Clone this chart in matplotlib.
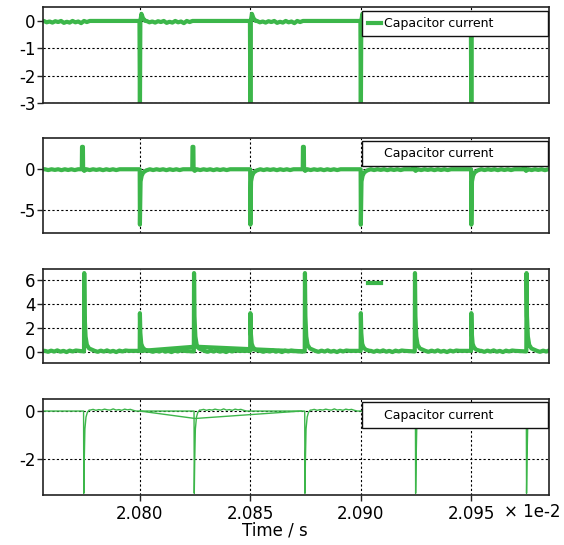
import numpy as np
import matplotlib
matplotlib.use("Agg")
import matplotlib.pyplot as plt
from matplotlib.lines import Line2D

plt.rcParams['font.family'] = ['DejaVu Sans']
plt.rcParams['axes.unicode_minus'] = False

GREEN = '#3cb64a'

# ---------------- data (time in units of 1e-2 s) ----------------
T_START, T_END = 2.0756, 2.09853
x_ticks = [2.080, 2.085, 2.090, 2.095]
x_tick_labels = ['2.080', '2.085', '2.090', '2.095']
legend_label = 'Capacitor current'

# Panel 1
p1_drop_t = [2.0800, 2.0850, 2.0900, 2.0950]
p1_drop_dt = [-0.00002, 0.0, 0.00002, 0.00007, 0.00014, 0.00024]
p1_drop_v = [0.0, -3.6, 0.0, 0.26, 0.10, 0.0]
p1_ripple_t0 = [2.07565, 2.0803, 2.0853, 2.0903, 2.0953]
p1_ripple_v = [0.0, -0.05, -0.02, -0.06, -0.01, -0.04, 0.0, -0.07, -0.03,
               -0.06, 0.0, -0.05, -0.02, -0.08, 0.0, -0.04, 0.0]
p1_ripple_step = 0.00013
p1_yticks = [0, -1, -2, -3]
p1_ylim = (-3.0, 0.51)

# Panel 2
p2_pulse_t = [2.07738, 2.08238, 2.08738, 2.09238, 2.09738]
p2_pulse_dt = [-0.00001, 0.0, 0.00004, 0.00005, 0.0001, 0.00018]
p2_pulse_v = [0.0, 2.75, 2.75, 0.0, -0.2, 0.0]
p2_drop_t = [2.0800, 2.0850, 2.0900, 2.0950]
p2_drop_dt = [-0.00001, 0.0, 0.00003, 0.00008, 0.00015, 0.00028, 0.00045]
p2_drop_v = [0.0, -6.8, -1.5, -0.8, -0.4, -0.15, 0.0]
p2_ripple_t0 = [2.0757, 2.07758, 2.08045, 2.08258, 2.08545, 2.08758,
                2.09045, 2.09258, 2.09545, 2.09758]
p2_ripple_v = [0.0, -0.1, 0.0, -0.08, 0.0, -0.11, 0.0, -0.09, 0.0, -0.1, 0.0]
p2_ripple_step = 0.00015
p2_yticks = [0, -5]
p2_ylim = (-7.86, 3.8)

# Panel 3
p3_tall_t = [2.07748, 2.08245, 2.08747, 2.09245, 2.09750]
p3_tall_dt = [-0.00001, 0.0, 0.00002, 0.00006, 0.00012, 0.00022, 0.0004]
p3_tall_v = [0.05, 6.6, 3.0, 1.3, 0.6, 0.3, 0.15]
p3_small_t = [2.0800, 2.0850, 2.0900, 2.0950]
p3_small_v = [0.1, 3.25, 1.6, 0.7, 0.4, 0.2, 0.1]
p3_ripple_t0 = [2.0757, 2.07795, 2.08045, 2.08292, 2.08545, 2.08794,
                2.09045, 2.09292, 2.09545, 2.09797]
p3_ripple_v = [0.1, 0.02, 0.12, 0.04, 0.14, 0.03, 0.1, 0.0, 0.12, 0.05, 0.13, 0.1]
p3_ripple_step = 0.00014
p3_ramp_t = [2.0801, 2.0825, 2.0873]
p3_ramp_v = [0.1, 0.45, 0.05]
p3_yticks = [0, 2, 4, 6]
p3_ylim = (-0.94, 6.94)

# Panel 4
p4_drop_t = [2.07746, 2.08246, 2.08747, 2.09248, 2.09750]
p4_drop_dt = [-0.00001, 0.0, 0.00002, 0.00005, 0.0001, 0.00016, 0.00024]
p4_drop_v = [0.0, -3.43, -2.1, -0.75, -0.25, -0.06, 0.04]
p4_ripple_t0 = [2.07775, 2.08275, 2.08776, 2.09277, 2.09779]
p4_ripple_v = [0.04, 0.07, 0.03, 0.06, 0.04, 0.08, 0.05, 0.04, 0.09, 0.04,
               0.06, 0.03, 0.08, 0.05, 0.07, 0.03, 0.0]
p4_ripple_step = 0.00013
p4_vee_t = [2.0800, 2.0825, 2.0873]
p4_vee_v = [0.0, -0.31, 0.0]
p4_yticks = [0, -2]
p4_ylim = (-3.5, 0.49)


def build_trace(base, shapes, ripples):
    pts = [(T_START - 0.001, base), (T_END + 0.001, base)]
    for times, dts, vals in shapes:
        for te in times:
            for dt, v in zip(dts, vals):
                pts.append((te + dt, v))
    for starts, vals, step in ripples:
        for ts in starts:
            for i, v in enumerate(vals):
                pts.append((ts + i * step, v))
    pts.sort(key=lambda p: p[0])
    return np.array([p[0] for p in pts]), np.array([p[1] for p in pts])


fig = plt.figure(figsize=(5.64, 5.45), dpi=100)
H = 545.0
W = 564.0
left = 42.7 / W
width = 506.6 / W
panel_px = [(7.0, 103.0), (138.3, 233.3), (269.0, 363.3), (399.3, 495.0)]
axes = []
for top, bot in panel_px:
    ax = fig.add_axes([left, 1 - bot / H, width, (bot - top) / H])
    axes.append(ax)

t1, v1 = build_trace(0.0, [(p1_drop_t, p1_drop_dt, p1_drop_v)],
                     [(p1_ripple_t0, p1_ripple_v, p1_ripple_step)])
t2, v2 = build_trace(0.0, [(p2_pulse_t, p2_pulse_dt, p2_pulse_v),
                           (p2_drop_t, p2_drop_dt, p2_drop_v)],
                     [(p2_ripple_t0, p2_ripple_v, p2_ripple_step)])
t3, v3 = build_trace(0.1, [(p3_tall_t, p3_tall_dt, p3_tall_v),
                           (p3_small_t, p3_tall_dt, p3_small_v)],
                     [(p3_ripple_t0, p3_ripple_v, p3_ripple_step)])
t4, v4 = build_trace(0.0, [(p4_drop_t, p4_drop_dt, p4_drop_v)],
                     [(p4_ripple_t0, p4_ripple_v, p4_ripple_step)])

LW = 3.0
axes[0].plot(t1, v1, color=GREEN, lw=LW)
axes[1].plot(t2, v2, color=GREEN, lw=LW)
axes[2].plot(t3, v3, color=GREEN, lw=LW)
axes[2].plot(p3_ramp_t, p3_ramp_v, color=GREEN, lw=LW)
axes[3].plot(t4, v4, color=GREEN, lw=1.0)
axes[3].plot(p4_vee_t, p4_vee_v, color=GREEN, lw=1.0)

ylims = [p1_ylim, p2_ylim, p3_ylim, p4_ylim]
yticks = [p1_yticks, p2_yticks, p3_yticks, p4_yticks]
for i, ax in enumerate(axes):
    ax.set_xlim(T_START, T_END)
    ax.set_ylim(*ylims[i])
    ax.set_yticks(yticks[i])
    ax.set_xticks(x_ticks)
    ax.grid(True, color='black', linestyle=(0, (2, 2)), lw=0.8)
    ax.set_axisbelow(True)
    ax.tick_params(axis='y', direction='out', length=4, width=1,
                   labelsize=12, pad=1, color='#222222')
    for s in ax.spines.values():
        s.set_color('#222222')
        s.set_linewidth(1.2)
    if i < 3:
        ax.tick_params(axis='x', length=0, labelbottom=False)
    else:
        ax.set_xticklabels(x_tick_labels)
        ax.tick_params(axis='x', direction='out', length=4, width=1,
                       labelsize=12, pad=3, color='#222222')
        ax.set_xlabel('Time / s', fontsize=12)
        ax.xaxis.set_label_coords((275 - 42.7) / 506.6, -0.28)

fig.text(504 / W, 1 - 512 / H, '× 1e-2', fontsize=12, va='center', ha='left')

leg_x0 = (361.7 - 42.7) / 506.6
leg_w = 186.0 / 506.6
leg_tops = [0.9615, 0.9747, 0.9745, 0.9687]
vis_handle = Line2D([], [], color=GREEN, lw=LW)
invis_handle = Line2D([], [], color='none', lw=LW)
for i, ax in enumerate(axes):
    if i == 0:
        h, lab, frame = vis_handle, legend_label, True
    elif i == 2:
        h, lab, frame = Line2D([], [], color=GREEN, lw=LW), ' ', False
    else:
        h, lab, frame = invis_handle, legend_label, True
    leg = ax.legend([h], [lab], loc='upper left',
                    bbox_to_anchor=(leg_x0, 0, leg_w, leg_tops[i]),
                    mode='expand', borderaxespad=0, fontsize=9,
                    handlelength=1.05, handletextpad=0.25, borderpad=0.5,
                    fancybox=False, framealpha=1, frameon=frame)
    if frame:
        leg.get_frame().set_edgecolor('#111111')
        leg.get_frame().set_linewidth(1.0)

fig.savefig('out.png', dpi=100)
